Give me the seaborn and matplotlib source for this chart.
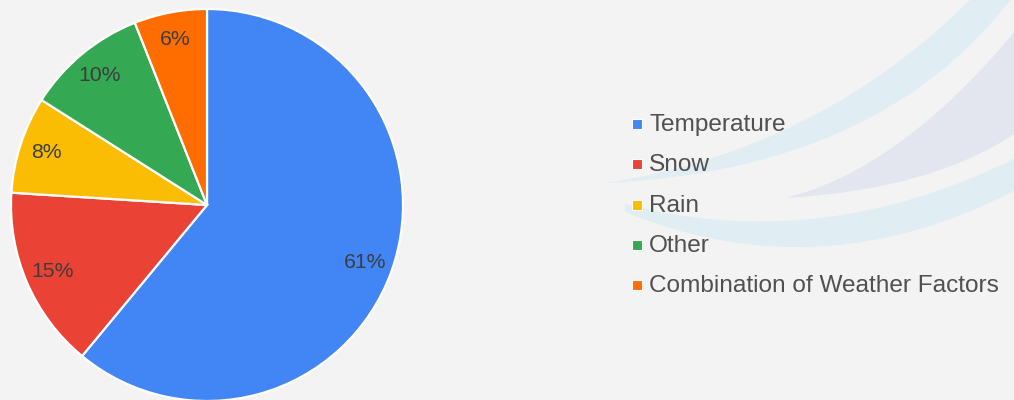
import matplotlib
matplotlib.use('Agg')
import matplotlib.pyplot as plt
from matplotlib.path import Path
from matplotlib.patches import PathPatch, Rectangle
import seaborn as sns

# Share of delays by weather factor
categories = ['Temperature', 'Snow', 'Rain', 'Other', 'Combination of Weather Factors']
shares = [61, 15, 8, 10, 6]
colors = ['#4285F4', '#EA4335', '#FBBC04', '#34A853', '#FF6D01']

sns.set_theme(style='white')
plt.rcParams['font.family'] = ['Liberation Sans', 'DejaVu Sans']

bg = '#f3f3f3'
fig = plt.figure(figsize=(10.14, 4.0), dpi=100, facecolor=bg)

# faint watermark swooshes in the background (pixel coords)
deco = fig.add_axes([0, 0, 1, 1], zorder=0)
deco.set_xlim(0, 1014)
deco.set_ylim(400, 0)
deco.axis('off')
C3 = Path.CURVE3
shapes = [
    ([(606, 183), (880, 170), (1012, -2), (972, -2), (820, 150), (606, 183)],
     [Path.MOVETO, C3, C3, Path.LINETO, C3, C3], '#e0eef3'),
    ([(785, 198), (900, 170), (1016, 30), (1016, 133), (930, 190), (785, 198)],
     [Path.MOVETO, C3, C3, Path.LINETO, C3, C3], '#e3e6ee'),
    ([(625, 204), (820, 255), (1016, 158), (1016, 190), (820, 292), (625, 212)],
     [Path.MOVETO, C3, C3, Path.LINETO, C3, C3], '#e0eef3'),
]
for verts, codes, col in shapes:
    deco.add_patch(PathPatch(Path(verts, codes), facecolor=col, edgecolor='none'))

# pie: centre at (207, 205) px, radius 196 px
ax = fig.add_axes([11 / 1014, -1 / 400, 392 / 1014, 392 / 400], zorder=1)
ax.set_facecolor('none')
wedges, texts, autotexts = ax.pie(
    shares, colors=colors, startangle=90, counterclock=False,
    autopct='%1.0f%%', pctdistance=0.86,
    wedgeprops=dict(edgecolor='white', linewidth=1.6),
    textprops=dict(color='#3d3d3d', fontsize=15.3),
)
for w in wedges:
    w.set_clip_on(False)
ax.set_xlim(-1, 1)
ax.set_ylim(-1, 1)
ax.set_aspect('equal')
ax.axis('off')

# legend drawn by hand to get Google-chart spacing
for i, (lab, col) in enumerate(zip(categories, colors)):
    y = 124 + i * 40.3
    deco.add_patch(Rectangle((632, y - 5), 10, 10, facecolor=col,
                             edgecolor='white', linewidth=0.8))
    deco.text(649, y + 1, lab, fontsize=17.6, color='#505050',
              va='center', ha='left')

fig.savefig('out.png', dpi=100, facecolor=bg)
